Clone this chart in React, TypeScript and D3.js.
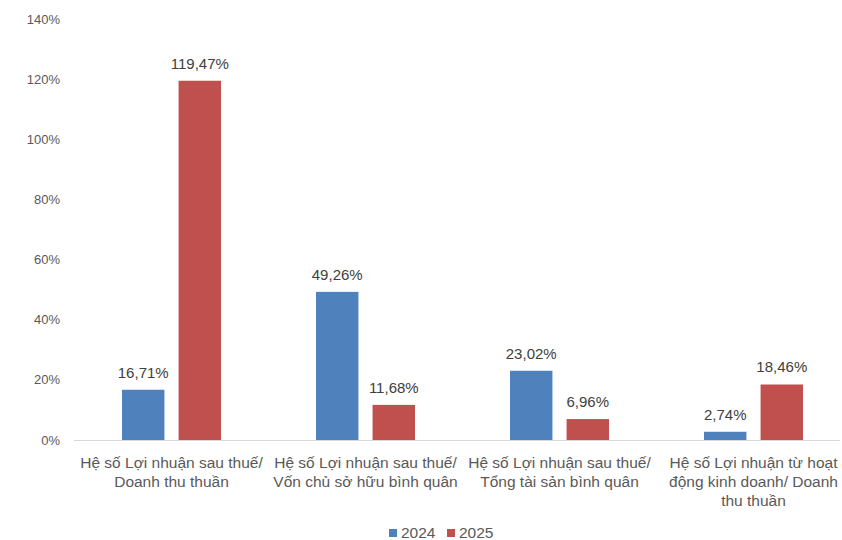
import React, { useEffect, useRef } from 'react';
import * as d3 from 'd3';

const categories = [
  ['Hệ số Lợi nhuận sau thuế/', 'Doanh thu thuần'],
  ['Hệ số Lợi nhuận sau thuế/', 'Vốn chủ sở hữu bình quân'],
  ['Hệ số Lợi nhuận sau thuế/', 'Tổng tài sản bình quân'],
  ['Hệ số Lợi nhuận từ hoạt', 'động kinh doanh/ Doanh', 'thu thuần'],
];
const seriesNames = ['2024', '2025'];
const values2024 = [16.71, 49.26, 23.02, 2.74];
const values2025 = [119.47, 11.68, 6.96, 18.46];
const yTicks = [0, 20, 40, 60, 80, 100, 120, 140];
const colors = ['#4F81BD', '#C0504D'];

const fmt = (v: number) => v.toFixed(2).replace('.', ',') + '%';

const App: React.FC = () => {
  const svgRef = useRef<SVGSVGElement>(null);

  useEffect(() => {
    if (!svgRef.current) return;
    const svg = d3.select(svgRef.current);
    svg.selectAll('*').remove();

    const font = '"Liberation Sans", Arial, sans-serif';
    const x0 = d3.scaleBand<number>()
      .domain(d3.range(categories.length))
      .range([74.5, 850.5]);
    const x1 = d3.scaleBand<number>()
      .domain([0, 1])
      .range([0, 99])
      .paddingInner(0.25);
    const y = d3.scaleLinear().domain([0, 140]).range([440, 19]);

    // y tick labels
    svg.append('g')
      .selectAll('text')
      .data(yTicks)
      .join('text')
      .attr('x', 60)
      .attr('y', d => y(d))
      .attr('dy', '0.35em')
      .attr('text-anchor', 'end')
      .attr('font-family', font)
      .attr('font-size', 13)
      .attr('fill', '#595959')
      .text(d => d + '%');

    const series = [values2024, values2025];

    const groups = svg.append('g')
      .selectAll('g')
      .data(d3.range(categories.length))
      .join('g')
      .attr('transform', i => `translate(${(x0(i) as number) + x0.bandwidth() / 2 - 49.5},0)`);

    groups.selectAll('rect')
      .data(i => series.map((s, k) => ({ k, v: s[i] })))
      .join('rect')
      .attr('x', d => x1(d.k) as number)
      .attr('width', x1.bandwidth())
      .attr('y', d => y(d.v))
      .attr('height', d => y(0) - y(d.v))
      .attr('fill', d => colors[d.k]);

    groups.selectAll('text.val')
      .data(i => series.map((s, k) => ({ k, v: s[i] })))
      .join('text')
      .attr('class', 'val')
      .attr('x', d => (x1(d.k) as number) + x1.bandwidth() / 2)
      .attr('y', d => y(d.v) - 12)
      .attr('text-anchor', 'middle')
      .attr('font-family', font)
      .attr('font-size', 15)
      .attr('fill', '#404040')
      .text(d => fmt(d.v));

    // baseline
    svg.append('line')
      .attr('x1', 74).attr('x2', 840)
      .attr('y1', y(0) + 0.5).attr('y2', y(0) + 0.5)
      .attr('stroke', '#D9D9D9')
      .attr('stroke-width', 1);

    // category labels
    const catLabels = svg.append('g')
      .selectAll('text')
      .data(categories)
      .join('text')
      .attr('text-anchor', 'middle')
      .attr('font-family', font)
      .attr('font-size', 15.5)
      .attr('fill', '#595959');
    catLabels.selectAll('tspan')
      .data((lines, i) => lines.map(l => ({ l, i })))
      .join('tspan')
      .attr('x', d => (x0(d.i) as number) + x0.bandwidth() / 2)
      .attr('y', (d, j) => 468 + j * 19)
      .text(d => d.l);

    // legend
    const legend = svg.append('g')
      .selectAll('g')
      .data(seriesNames)
      .join('g')
      .attr('transform', (d, i) => `translate(${389 + i * 58},0)`);
    legend.append('rect')
      .attr('x', 0).attr('y', 529)
      .attr('width', 8).attr('height', 8)
      .attr('fill', (d, i) => colors[i]);
    legend.append('text')
      .attr('x', 12).attr('y', 533)
      .attr('dy', '0.35em')
      .attr('font-family', font)
      .attr('font-size', 15.5)
      .attr('fill', '#595959')
      .text(d => d);
  }, []);

  return (
    <svg
      ref={svgRef}
      width={842}
      height={540}
      style={{ position: 'absolute', left: 0, top: 0, background: '#fff' }}
    />
  );
};

export default App;
